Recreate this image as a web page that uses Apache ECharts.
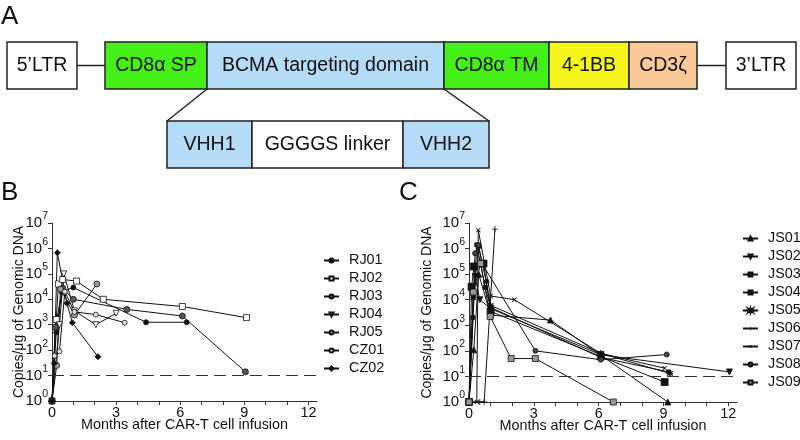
<!DOCTYPE html>
<html><head><meta charset="utf-8">
<script src="https://cdn.jsdelivr.net/npm/echarts@6/dist/echarts.min.js"></script>
<style>html,body{margin:0;padding:0;background:#fff}#c{width:800px;height:440px}</style>
</head><body><div id="c"></div>
<script>
// ---------- Panel A: construct labels ----------
const constructTop = ['5’LTR', 'CD8α SP', 'BCMA targeting domain', 'CD8α TM', '4-1BB', 'CD3ζ', '3’LTR'];
const constructBottom = ['VHH1', 'GGGGS linker', 'VHH2'];

// ---------- Axis ticks ----------
const monthTicks = [0, 1, 2, 3, 4, 5, 6, 7, 8, 9, 10, 11, 12];
const monthLabels = [0, 3, 6, 9, 12];
const copyTicks = [1, 10, 100, 1e3, 1e4, 1e5, 1e6, 1e7];
const lowerLimit = 10;

// ---------- Panel B ----------
const patientsB = ['RJ01', 'RJ02', 'RJ03', 'RJ04', 'RJ05', 'CZ01', 'CZ02'];
const monthsRJ01 = [0, 0.2, 0.45, 1.0, 4.4, 6.3];
const copiesRJ01 = [1, 5e2, 2e4, 2.9e4, 1.25e3, 1.25e3];
const monthsRJ02 = [0, 0.2, 0.3, 0.5, 1.15, 2.4, 6.1, 9.1];
const copiesRJ02 = [1, 1.6e3, 4e4, 6e4, 5.2e4, 1e4, 5.2e3, 1.9e3];
const monthsRJ03 = [0, 0.15, 0.5, 1.0, 3.5, 6.1, 9.05];
const copiesRJ03 = [1, 8e2, 2.7e4, 1e4, 4e3, 2.2e3, 14];
const monthsRJ04 = [0, 0.35, 0.55, 1.05, 2.05, 3.0];
const copiesRJ04 = [1, 1e3, 1e5, 3.5e3, 1e3, 2.8e3];
const monthsRJ05 = [0, 0.22, 0.4, 1.05, 2.1];
const copiesRJ05 = [1, 25, 2.5e4, 2.4e3, 4e4];
const monthsCZ01 = [0, 0.12, 0.35, 0.6, 1.05, 2.05, 3.4];
const copiesCZ01 = [1, 60, 90, 2e4, 3.2e3, 2.5e3, 1.2e3];
const monthsCZ02 = [0, 0.1, 0.25, 0.7, 0.95, 2.15];
const copiesCZ02 = [1, 30, 6.8e5, 7e3, 1.2e3, 55];

// ---------- Panel C ----------
const patientsC = ['JS01', 'JS02', 'JS03', 'JS04', 'JS05', 'JS06', 'JS07', 'JS08', 'JS09'];
const monthsJS01 = [0, 0.22, 0.45, 1.0, 3.77, 9.2];
const copiesJS01 = [1, 110, 1e5, 2.5e3, 1.6e3, 1];
const monthsJS02 = [0, 0.28, 0.5, 1.0, 6.1, 12.05];
const copiesJS02 = [1, 8e4, 1e4, 4.5e3, 70, 15];
const monthsJS03 = [0, 0.12, 0.23, 0.67, 1.0, 6.1, 9.05];
const copiesJS03 = [1, 3.2e4, 2e5, 2.6e5, 3.5e3, 60, 6];
const monthsJS04 = [0, 0.18, 0.36, 0.75, 1.0, 6.1, 9.25];
const copiesJS04 = [1, 2e3, 1.4e6, 3e4, 5e3, 55, 15];
const monthsJS05 = [0, 0.2, 0.45, 0.8, 1.0, 6.1, 9.3];
const copiesJS05 = [1, 1.2e4, 1.2e6, 5e4, 6e3, 80, 13];
const monthsJS06 = [0, 0.5, 0.7, 1.2];
const copiesJS06 = [1, 1, 1, 5.8e6];
const monthsJS07 = [0, 0.36, 0.43, 1.0, 2.1, 6.1, 9.05];
const copiesJS07 = [1, 1, 5.3e6, 1.4e4, 1e4, 80, 21];
const monthsJS08 = [0, 0.28, 0.43, 0.6, 3.07, 6.1, 9.15];
const copiesJS08 = [1, 6.6e5, 1.4e6, 2.6e5, 100, 45, 72];
const monthsJS09 = [0, 0.2, 0.54, 0.98, 1.95, 3.07, 6.68];
const copiesJS09 = [1, 2e4, 2.6e5, 2.2e3, 50, 50, 1];

const FONT = 'Liberation Sans, Arial, Helvetica, sans-serif';
const INK = '#111';
const PLUS = 'path://M4.3,0H5.7V4.3H10V5.7H5.7V10H4.3V5.7H0V4.3H4.3Z';
const STAR = 'path://M5,0L6,3.5L9.5,1.5L7.2,4.6L10,5L7.2,5.4L9.5,8.5L6,6.5L5,10L4,6.5L0.5,8.5L2.8,5.4L0,5L2.8,4.6L0.5,1.5L4,3.5Z';

const markerStyles = {
  RJ01: {symbol: 'circle', size: 5, fill: INK},
  RJ02: {symbol: 'rect', size: 6, fill: '#fff'},
  RJ03: {symbol: 'circle', size: 6, fill: '#555'},
  RJ04: {symbol: 'triangle', size: 6, fill: '#fff', rotate: 180},
  RJ05: {symbol: 'circle', size: 6, fill: '#999'},
  CZ01: {symbol: 'circle', size: 5, fill: '#ddd'},
  CZ02: {symbol: 'diamond', size: 6, fill: INK},
  JS01: {symbol: 'triangle', size: 6, fill: INK},
  JS02: {symbol: 'triangle', size: 6, fill: INK, rotate: 180},
  JS03: {symbol: 'rect', size: 7, fill: INK},
  JS04: {symbol: 'rect', size: 4, fill: INK},
  JS05: {symbol: STAR, size: 6, fill: INK},
  JS06: {symbol: PLUS, size: 6, fill: INK, bw: 0},
  JS07: {symbol: PLUS, size: 6, fill: INK, bw: 0, rotate: 45},
  JS08: {symbol: 'circle', size: 5, fill: '#444'},
  JS09: {symbol: 'rect', size: 6, fill: '#999'}
};

const seriesData = {
  RJ01: [monthsRJ01, copiesRJ01], RJ02: [monthsRJ02, copiesRJ02], RJ03: [monthsRJ03, copiesRJ03],
  RJ04: [monthsRJ04, copiesRJ04], RJ05: [monthsRJ05, copiesRJ05], CZ01: [monthsCZ01, copiesCZ01],
  CZ02: [monthsCZ02, copiesCZ02],
  JS01: [monthsJS01, copiesJS01], JS02: [monthsJS02, copiesJS02], JS03: [monthsJS03, copiesJS03],
  JS04: [monthsJS04, copiesJS04], JS05: [monthsJS05, copiesJS05], JS06: [monthsJS06, copiesJS06],
  JS07: [monthsJS07, copiesJS07], JS08: [monthsJS08, copiesJS08], JS09: [monthsJS09, copiesJS09]
};

function mkSeries(name, idx, first) {
  const st = markerStyles[name];
  const [m, c] = seriesData[name];
  const s = {
    type: 'line', name, xAxisIndex: idx, yAxisIndex: idx,
    data: m.map((v, i) => [v, c[i]]),
    symbol: st.symbol, symbolSize: st.size, symbolRotate: st.rotate || 0,
    showAllSymbol: true, animation: false, z: 3,
    lineStyle: {color: INK, width: 1},
    itemStyle: {color: st.fill, borderColor: INK, borderWidth: st.bw === undefined ? 0.8 : st.bw},
    emphasis: {disabled: true}
  };
  if (first) {
    s.markLine = {
      silent: true, symbol: 'none', animation: false,
      label: {show: false},
      lineStyle: {type: [12, 6], color: '#333', width: 1},
      data: [{yAxis: lowerLimit}]
    };
  }
  return s;
}

function xAxisCfg(idx) {
  return {
    type: 'value', gridIndex: idx, min: 0, max: 12.4,
    name: 'Months after CAR-T cell infusion', nameLocation: 'middle', nameGap: 17, nameMoveOverlap: false,
    nameTextStyle: {fontFamily: FONT, fontSize: 14.4, color: INK},
    axisLine: {lineStyle: {color: '#333', width: 1}},
    axisTick: {length: 4, lineStyle: {color: '#333'}, customValues: monthTicks},
    axisLabel: {fontFamily: FONT, fontSize: 14.4, color: INK, margin: 5, customValues: monthLabels},
    splitLine: {show: false}
  };
}
function yAxisCfg(idx, gap) {
  return {
    type: 'log', logBase: 10, gridIndex: idx, min: 1, max: 1e7,
    name: 'Copies/μg of Genomic DNA', nameLocation: 'middle', nameGap: gap, nameRotate: 90, nameMoveOverlap: false,
    nameTextStyle: {fontFamily: FONT, fontSize: 14, color: INK},
    axisLine: {show: true, lineStyle: {color: '#333', width: 1}},
    axisTick: {show: true, length: 4, lineStyle: {color: '#333'}, customValues: copyTicks},
    axisLabel: {
      margin: 4, customValues: copyTicks,
      formatter: v => '{a|10}{b|' + Math.round(Math.log10(v)) + '}',
      rich: {
        a: {fontFamily: FONT, fontSize: 15, color: INK},
        b: {fontFamily: FONT, fontSize: 10.5, color: INK, padding: [0, 0, 13, 0]}
      }
    },
    splitLine: {show: false}
  };
}

function legendCfg(names, left, top) {
  return {
    data: names, orient: 'vertical', left, top, padding: 0,
    itemWidth: 15, itemHeight: 5, itemGap: 3,
    textStyle: {fontFamily: FONT, fontSize: 14.4, color: INK, lineHeight: 15, padding: [0, 0, 0, 5]},
    selectedMode: false
  };
}

// ---------- Panel A graphic ----------
const topFill = ['#fff', '#44f018', '#b5dcf6', '#44f018', '#f5f51c', '#f9c997', '#fff'];
const graphics = [];
const boxStroke = {stroke: '#222', lineWidth: 1.5};
function box(x0, x1, y0, y1, fill) {
  graphics.push({type: 'rect', shape: {x: x0, y: y0, width: x1 - x0, height: y1 - y0}, style: Object.assign({fill}, boxStroke)});
}
function txt(t, x, y, size) {
  graphics.push({type: 'text', style: {text: t, x, y, fill: INK, font: (size || 19.5) + 'px ' + FONT, textAlign: 'center', textVerticalAlign: 'middle'}, z: 10});
}
function seg(x1, y1, x2, y2) {
  graphics.push({type: 'line', shape: {x1, y1, x2, y2}, style: {stroke: '#222', lineWidth: 1.5}});
}
const yT0 = 42, yT1 = 89;
box(7, 77, yT0, yT1, topFill[0]);
seg(77, 65.5, 105, 65.5);
const segBounds = [105, 207, 444, 549, 629, 697];
for (let i = 0; i < 5; i++) box(segBounds[i], segBounds[i + 1], yT0, yT1, topFill[i + 1]);
seg(697, 65.5, 726, 65.5);
box(726, 796, yT0, yT1, topFill[6]);
txt(constructTop[0], 42, 65.5);
for (let i = 0; i < 5; i++) txt(constructTop[i + 1], (segBounds[i] + segBounds[i + 1]) / 2, 65.5);
txt(constructTop[6], 761, 65.5);
const botBounds = [167, 252, 403, 489];
const botFill = ['#b5dcf6', '#fff', '#b5dcf6'];
for (let i = 0; i < 3; i++) box(botBounds[i], botBounds[i + 1], 121, 168, botFill[i]);
for (let i = 0; i < 3; i++) txt(constructBottom[i], (botBounds[i] + botBounds[i + 1]) / 2, 144.5);
seg(207, 89, 167, 121);
seg(444, 89, 489, 121);
graphics.push({type: 'text', style: {text: 'A', x: 1, y: 17, fill: INK, font: '26px ' + FONT, textVerticalAlign: 'middle'}});
graphics.push({type: 'text', style: {text: 'B', x: 1, y: 193, fill: INK, font: '26px ' + FONT, textVerticalAlign: 'middle'}});
graphics.push({type: 'text', style: {text: 'C', x: 399, y: 193, fill: INK, font: '26px ' + FONT, textVerticalAlign: 'middle'}});

const chart = echarts.init(document.getElementById('c'), null, {renderer: 'canvas'});
chart.setOption({
  backgroundColor: '#fff',
  animation: false,
  textStyle: {fontFamily: FONT},
  grid: [
    {left: 52, top: 223, width: 265, height: 178, outerBoundsMode: 'none', containLabel: false},
    {left: 469, top: 223, width: 268, height: 179, outerBoundsMode: 'none', containLabel: false}
  ],
  xAxis: [xAxisCfg(0), xAxisCfg(1)],
  yAxis: [yAxisCfg(0, 26), yAxisCfg(1, 35)],
  legend: [legendCfg(patientsB, 323, 253), legendCfg(patientsC, 742, 231)],
  series: patientsB.map((n, i) => mkSeries(n, 0, i === 0)).concat(patientsC.map((n, i) => mkSeries(n, 1, i === 0))),
  graphic: graphics
});
</script></body></html>
